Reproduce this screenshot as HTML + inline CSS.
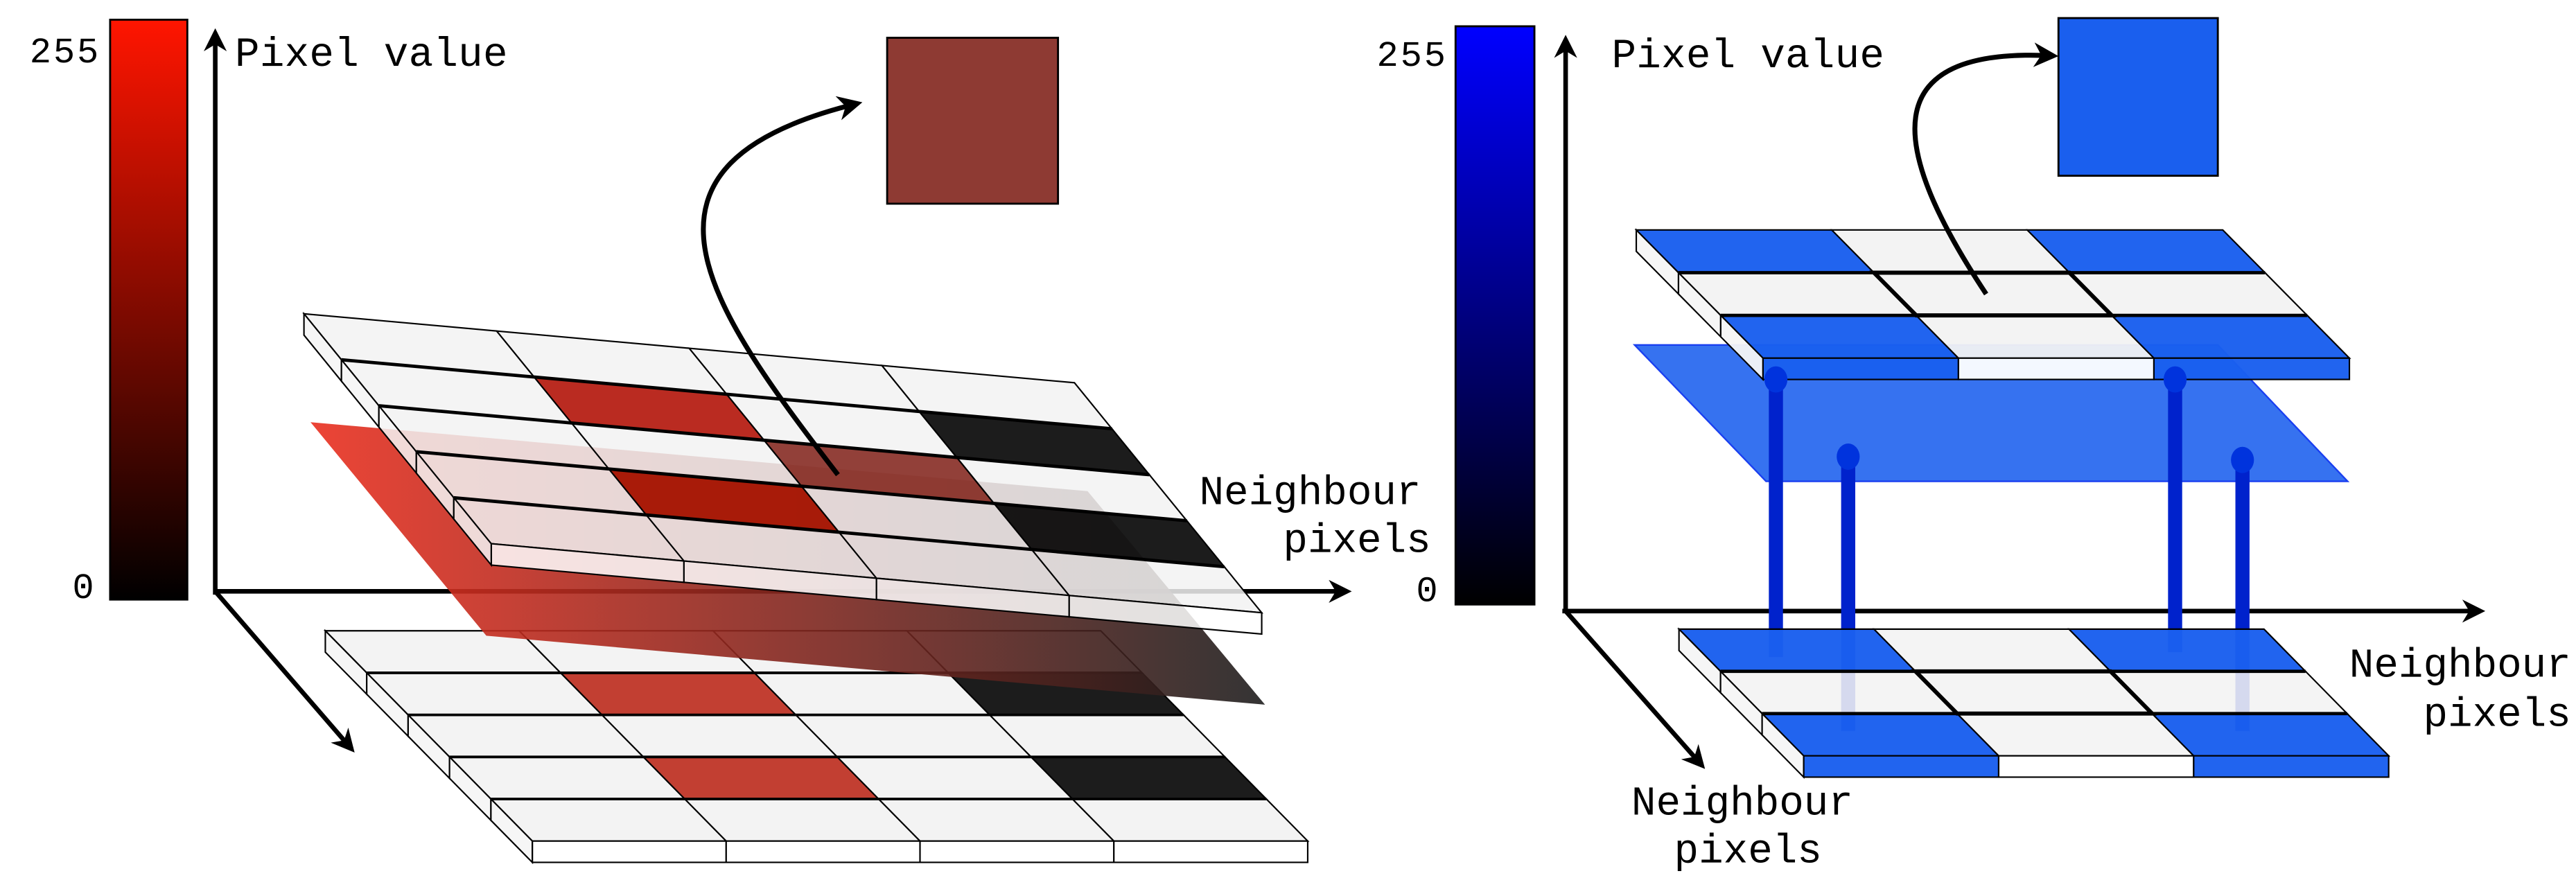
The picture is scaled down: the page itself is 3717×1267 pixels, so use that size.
<!DOCTYPE html>
<html><head><meta charset="utf-8"><style>
html,body{margin:0;padding:0;background:#fff;}
svg{display:block}
text{font-family:"Liberation Mono","DejaVu Sans Mono",monospace;fill:#000}
</style></head><body>
<svg id="s" xmlns="http://www.w3.org/2000/svg" width="3717" height="1267" viewBox="0 0 1568 534.5">
<defs>
<linearGradient id="gr" x1="0" y1="0" x2="0" y2="1"><stop offset="0" stop-color="#ff1500"/><stop offset="1" stop-color="#000"/></linearGradient>
<linearGradient id="gb" x1="0" y1="0" x2="0" y2="1"><stop offset="0" stop-color="#0000ff"/><stop offset="1" stop-color="#000"/></linearGradient>
<linearGradient id="gp" x1="189" y1="0" x2="770" y2="0" gradientUnits="userSpaceOnUse"><stop offset="0" stop-color="#ea3020"/><stop offset="1" stop-color="#1e1e1e"/></linearGradient>
<marker id="ah" viewBox="0 0 10 10" refX="8" refY="5" markerWidth="5" markerHeight="5" orient="auto" markerUnits="strokeWidth"><path d="M0,0 L10,5 L0,10 L3,5 z" fill="#000"/></marker>
</defs>
<rect width="1568" height="534.5" fill="#fff"/>
<rect x="67" y="12" width="47" height="353" fill="url(#gr)" stroke="#000" stroke-width="1.2"/>
<text x="18" y="38" font-size="22" textLength="42">255</text>
<text x="44" y="364" font-size="22">0</text>
<line x1="131" y1="362" x2="131" y2="20" stroke="#000" stroke-width="2.8" marker-end="url(#ah)"/>
<line x1="131" y1="360" x2="820" y2="360" stroke="#000" stroke-width="2.8" marker-end="url(#ah)"/>
<line x1="131" y1="360" x2="214" y2="456" stroke="#000" stroke-width="2.8" marker-end="url(#ah)"/>
<text x="143" y="40" font-size="25" textLength="166">Pixel value</text>
<rect x="540" y="23" width="104" height="101" fill="#8e3a33" stroke="#000" stroke-width="1.2"/>
<g id="LB"></g>
<polygon points="189,257 662,299 770,429 296,387" fill="url(#gp)" fill-opacity="0.9"/>
<g id="LT"></g>
<path d="M510,289 C430,185 370,100 522,63" fill="none" stroke="#000" stroke-width="3" marker-end="url(#ah)"/>
<text x="730" y="307" font-size="25">Neighbour</text>
<text x="781" y="336" font-size="25">pixels</text>
<rect x="886" y="16" width="48" height="352" fill="url(#gb)" stroke="#000" stroke-width="1.2"/>
<text x="838" y="40" font-size="22" textLength="42">255</text>
<text x="862" y="366" font-size="22">0</text>
<line x1="953" y1="372" x2="953" y2="24" stroke="#000" stroke-width="2.8" marker-end="url(#ah)"/>
<line x1="951" y1="372" x2="1510" y2="372" stroke="#000" stroke-width="2.8" marker-end="url(#ah)"/>
<line x1="953" y1="372" x2="1036" y2="466" stroke="#000" stroke-width="2.8" marker-end="url(#ah)"/>
<text x="981" y="41" font-size="25" textLength="166">Pixel value</text>
<rect x="1253" y="11" width="97" height="96" fill="#1a5fee" stroke="#000" stroke-width="1.2"/>
<polygon points="995,210 1350,210 1429,293 1075,293" fill="#1a5fee" fill-opacity="0.88" stroke="#1a3ff0" stroke-width="1"/>
<g id="RT"></g>
<g id="PL"></g>
<g id="RB"></g>
<path d="M1209,179 C1150,90 1140,28 1250,34" fill="none" stroke="#000" stroke-width="3" marker-end="url(#ah)"/>
<text x="1430" y="412" font-size="25">Neighbour</text>
<text x="1475" y="442" font-size="25">pixels</text>
<text x="993" y="496" font-size="25">Neighbour</text>
<text x="1019" y="525" font-size="25">pixels</text>
</svg>
<script>
var NS="http://www.w3.org/2000/svg";
function poly(g,pts,fill,op,sw,st){var p=document.createElementNS(NS,"polygon");p.setAttribute("points",pts.map(function(a){return a[0].toFixed(1)+","+a[1].toFixed(1)}).join(" "));p.setAttribute("fill",fill);p.setAttribute("fill-opacity",op);p.setAttribute("stroke",st||"#000");p.setAttribute("stroke-width",sw);g.appendChild(p);}
function grid(id,O,u,v,t,cols,rows,col,op,rowsw){
 var g=document.getElementById(id);
 function P(r,c){return [O[0]+c*u[0]+r*v[0],O[1]+c*u[1]+r*v[1]];}
 for(var r=0;r<rows;r++){
  for(var c=0;c<cols;c++){
   var f=col[r][c];
   var o=(f=="#f2f2f2")?op:0.97;
   var a=P(r,c),b=P(r,c+1),d=P(r+1,c+1),e=P(r+1,c);
   poly(g,[a,b,d,e],f,o,0.9);
   if(r==rows-1){var ff=(f=="#f2f2f2")?"#ffffff":f;
   poly(g,[e,d,[d[0],d[1]+t],[e[0],e[1]+t]],ff,o,0.9);}
   if(c==0)poly(g,[a,e,[e[0],e[1]+t],[a[0],a[1]+t]],"#f5f5f5",op,0.9);
  }
 }
 for(var r=1;r<rows;r++){
  var s=P(r,0),q=P(r,cols);
  var l=document.createElementNS(NS,"line");l.setAttribute("x1",s[0]);l.setAttribute("y1",s[1]);l.setAttribute("x2",q[0]);l.setAttribute("y2",q[1]);l.setAttribute("stroke","#000");l.setAttribute("stroke-width",rowsw);g.appendChild(l);
 }
}
var W="#f2f2f2",R="#c0392b",K="#151515",B="#1a5fee";
grid("LB",[198,384],[118,0],[25.2,25.6],13,4,5,[[W,W,W,W],[W,R,W,K],[W,W,W,W],[W,R,W,K],[W,W,W,W]],0.9,1.6);
grid("LT",[185,191],[117.25,10.5],[22.8,28],13,4,5,[[W,W,W,W],[W,"#b8241a",W,K],[W,W,"#8e3a33",W],[W,"#a81a08",W,K],[W,W,W,W]],0.85,2);
grid("RT",[996,140],[119,0],[25.7,26],13,3,3,[[B,W,B],[W,W,W],[B,W,B]],0.95,2);
var pl=document.getElementById("PL");
[[1081,231,400],[1125,278,445],[1324,231,397],[1365,280,445]].forEach(function(p){
 var r=document.createElementNS(NS,"rect");r.setAttribute("x",p[0]-4.3);r.setAttribute("y",p[1]);r.setAttribute("width",8.6);r.setAttribute("height",p[2]-p[1]);r.setAttribute("fill","#0022cc");pl.appendChild(r);
 var c=document.createElementNS(NS,"ellipse");c.setAttribute("cx",p[0]);c.setAttribute("cy",p[1]);c.setAttribute("rx",7);c.setAttribute("ry",8);c.setAttribute("fill","#0033dd");pl.appendChild(c);
});
grid("RB",[1022,383],[118.7,0],[25.3,25.7],13,3,3,[[B,W,B],[W,W,W],[B,W,B]],0.88,2);
poly(document.getElementById("RT"),[[1140.7,166],[1259.7,166],[1285.4,192],[1166.4,192]],"none",1,2.5);
poly(document.getElementById("RB"),[[1166,408.7],[1284.7,408.7],[1310,434.4],[1191.3,434.4]],"none",1,2.5);
</script>
</body></html>
